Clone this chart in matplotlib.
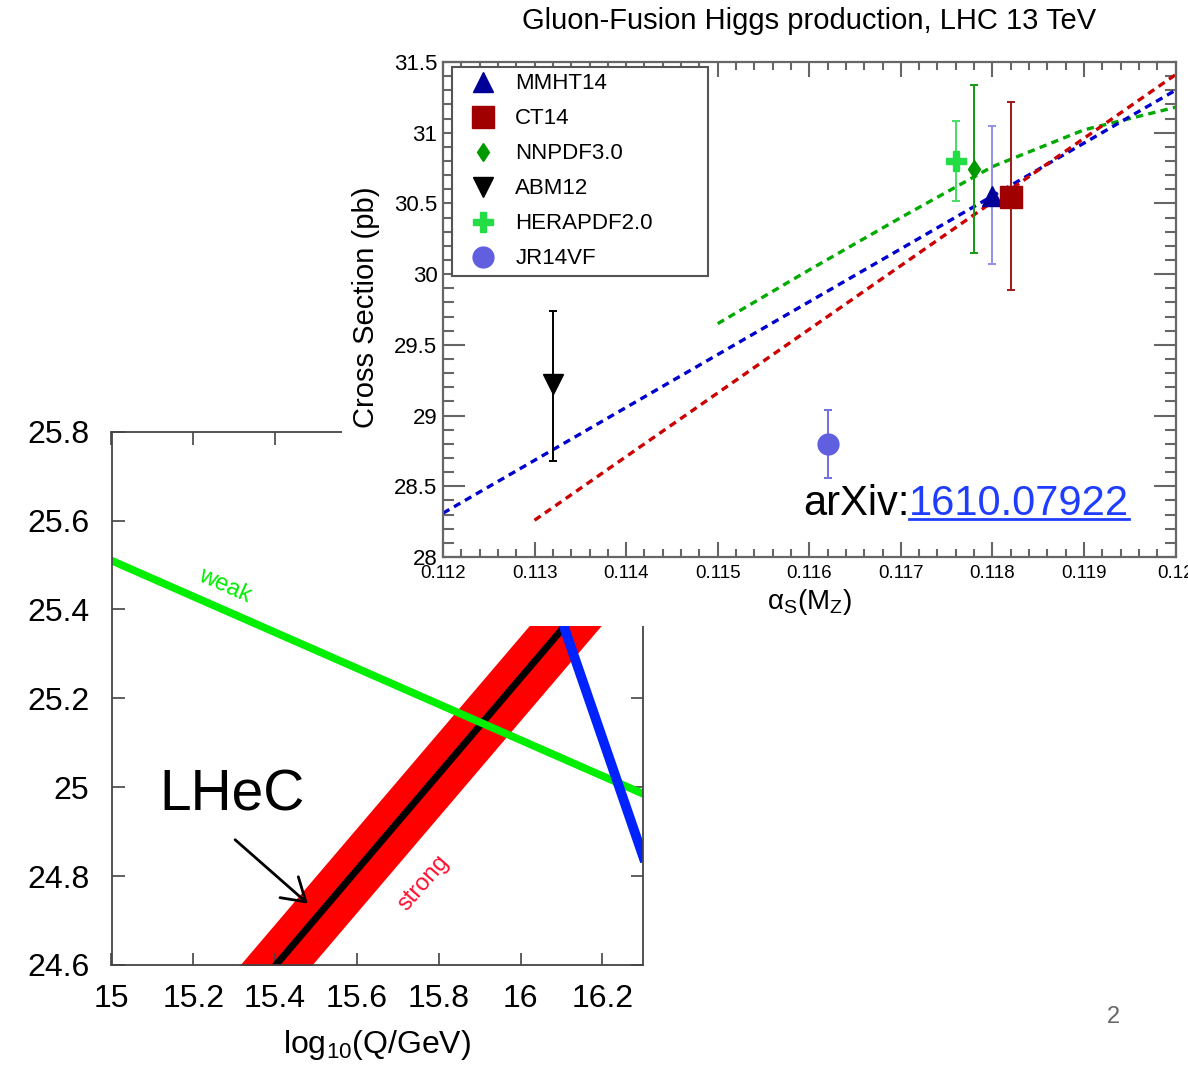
import matplotlib.pyplot as plt
from matplotlib.lines import Line2D
from matplotlib.patches import Rectangle
from matplotlib.ticker import FixedLocator, MultipleLocator

plt.rcParams['font.family'] = ['Liberation Sans', 'DejaVu Sans']
plt.rcParams['mathtext.fontset'] = 'custom'
plt.rcParams['mathtext.rm'] = 'Liberation Sans'
plt.rcParams['mathtext.it'] = 'Liberation Sans:italic'

# ---- top right panel: ggH cross section vs alpha_s(MZ)
pdf_names = ['MMHT14', 'CT14', 'NNPDF3.0', 'ABM12', 'HERAPDF2.0', 'JR14VF']
pdf_alphas = [0.1180, 0.1182, 0.1178, 0.1132, 0.1176, 0.1162]
pdf_xsec = [30.55, 30.545, 30.74, 29.22, 30.80, 28.80]
pdf_err_lo = [0.48, 0.66, 0.59, 0.54, 0.28, 0.24]
pdf_err_hi = [0.50, 0.67, 0.60, 0.52, 0.28, 0.24]
pdf_markers = ['^', 's', 'd', 'v', 'P', 'o']
pdf_msize = [14, 15.5, 9.5, 15, 14, 15]
pdf_colors = ['#000099', '#a00000', '#009a00', '#000000', '#22dd44', '#5f5fe0']
pdf_ecolors = ['#8f8fe6', '#a01818', '#129a12', '#000000', '#44dd66', '#7070e0']

# alpha_s scan lines
mmht_scan_a = [0.112, 0.120]
mmht_scan_x = [28.31, 31.30]
ct14_scan_a = [0.113, 0.120]
ct14_scan_x = [28.26, 31.41]
nnpdf_scan_a = [0.115, 0.116, 0.117, 0.118, 0.119, 0.120]
nnpdf_scan_x = [29.65, 30.03, 30.40, 30.76, 31.02, 31.18]

xticks_top = [0.112, 0.113, 0.114, 0.115, 0.116, 0.117, 0.118, 0.119, 0.120]
xtick_labels_top = ['0.112', '0.113', '0.114', '0.115', '0.116', '0.117', '0.118', '0.119', '0.12']
yticks_top = [28, 28.5, 29, 29.5, 30, 30.5, 31, 31.5]
ytick_labels_top = ['28', '28.5', '29', '29.5', '30', '30.5', '31', '31.5']

# ---- bottom left panel: running couplings (1/alpha) vs log10(Q/GeV)
weak_q = [15.0, 16.3]
weak_inv = [25.51, 24.985]
strong_q = [15.3, 16.3]
strong_inv = [24.49, 25.57]
strong_band = 0.095
em_q = [15.95, 16.3]
em_inv = [25.778, 24.843]

xticks_low = [15, 15.2, 15.4, 15.6, 15.8, 16, 16.2]
xtick_labels_low = ['15', '15.2', '15.4', '15.6', '15.8', '16', '16.2']
yticks_low = [24.6, 24.8, 25, 25.2, 25.4, 25.6, 25.8]
ytick_labels_low = ['24.6', '24.8', '25', '25.2', '25.4', '25.6', '25.8']

W, H = 1188, 1065
fig = plt.figure(figsize=(W / 100, H / 100), dpi=100)

# lower left plot (partly hidden under the upper one)
ax2 = fig.add_axes([111.5 / W, 1 - 965 / H, 531.8 / W, 533.3 / H])
ax2.set_zorder(0)
ax2.fill_between(strong_q, [v - strong_band for v in strong_inv],
                 [v + strong_band for v in strong_inv], color='#ff0000', lw=0)
ax2.plot(strong_q, strong_inv, color='black', lw=5)
ax2.plot(weak_q, weak_inv, color='#00ee00', lw=5.5)
ax2.plot(em_q, em_inv, color='#0022ff', lw=7)
ax2.set_xlim(15, 16.3)
ax2.set_ylim(24.6, 25.8)
ax2.xaxis.set_major_locator(FixedLocator(xticks_low))
ax2.set_xticklabels(xtick_labels_low)
ax2.yaxis.set_major_locator(FixedLocator(yticks_low))
ax2.set_yticklabels(ytick_labels_low)
ax2.tick_params(direction='in', top=True, right=True, length=9, width=1.2,
                color='#444444', labelsize=23)
ax2.tick_params(axis='y', pad=16)
ax2.tick_params(axis='x', pad=14)
for s in ax2.spines.values():
    s.set_color('#444444')
    s.set_linewidth(1.3)
ax2.set_xlabel('log$_{10}$(Q/GeV)', fontsize=23, va='top')
ax2.xaxis.set_label_coords(0.5, -0.118)

ax2.text(15.265, 25.43, 'weak', color='#00ee00', fontsize=17, rotation=-24,
         ha='center', va='bottom', rotation_mode='anchor')
ax2.text(15.762, 24.785, 'strong', color='#ff1030', fontsize=17, rotation=49,
         ha='center', va='center', rotation_mode='anchor')
ax2.text(15.116, 24.948, 'LHeC', fontsize=41, ha='left', va='baseline')
ax2.annotate('', xy=(15.485, 24.734), xytext=(15.297, 24.886),
             arrowprops=dict(arrowstyle='->, head_length=0.4, head_width=0.25',
                             mutation_scale=40, lw=2, color='black'))

# white sheet of the upper plot
fig.add_artist(Rectangle((342 / W, 1 - 626 / H), 1, 1, transform=fig.transFigure,
                         facecolor='white', edgecolor='none', zorder=1))

# upper right plot
ax1 = fig.add_axes([443 / W, 1 - 557 / H, 732.5 / W, 495 / H])
ax1.set_zorder(2)
ax1.plot(nnpdf_scan_a, nnpdf_scan_x, color='#00aa00', lw=2.4, ls=(0, (2.2, 1.6)))
ax1.plot(mmht_scan_a, mmht_scan_x, color='#0000cc', lw=2.4, ls=(0, (2.2, 1.6)))
ax1.plot(ct14_scan_a, ct14_scan_x, color='#cc0000', lw=2.4, ls=(0, (2.2, 1.6)))

for i in range(len(pdf_names)):
    ax1.errorbar(pdf_alphas[i], pdf_xsec[i], yerr=[[pdf_err_lo[i]], [pdf_err_hi[i]]],
                 fmt='none', ecolor=pdf_ecolors[i], elinewidth=1.4, capsize=3,
                 capthick=1.4)
    ax1.plot(pdf_alphas[i], pdf_xsec[i], ls='none', marker=pdf_markers[i],
             ms=pdf_msize[i], color=pdf_colors[i], mec=pdf_colors[i],
             label=pdf_names[i])

ax1.set_xlim(0.112, 0.120)
ax1.set_ylim(28, 31.5)
ax1.xaxis.set_major_locator(FixedLocator(xticks_top))
ax1.set_xticklabels(xtick_labels_top)
ax1.xaxis.set_minor_locator(MultipleLocator(0.0002))
ax1.yaxis.set_major_locator(FixedLocator(yticks_top))
ax1.set_yticklabels(ytick_labels_top)
ax1.yaxis.set_minor_locator(MultipleLocator(0.1))
ax1.tick_params(which='both', direction='in', top=True, right=True,
                color='#666666', width=1.5)
ax1.tick_params(axis='y', which='major', length=16, labelsize=16, pad=4)
ax1.tick_params(axis='y', which='minor', length=8)
ax1.tick_params(axis='x', which='major', length=11, labelsize=13.5, pad=5.5)
ax1.tick_params(axis='x', which='minor', length=5.5)
for s in ax1.spines.values():
    s.set_color('#666666')
    s.set_linewidth(1.6)

ax1.set_title('Gluon-Fusion Higgs production, LHC 13 TeV', fontsize=21, pad=24)
ax1.set_ylabel('Cross Section (pb)', fontsize=21)
ax1.yaxis.set_label_coords(-0.086, 0.505)
ax1.set_xlabel('α$_\\mathrm{S}$(M$_\\mathrm{Z}$)', fontsize=20, va='top')
ax1.xaxis.set_label_coords(0.5, -0.06)

leg = ax1.legend(loc='upper left', bbox_to_anchor=(0.0123, 0.5, 0.35, 0.4905),
                 mode='expand', borderaxespad=0, fontsize=16, fancybox=False,
                 framealpha=1, edgecolor='#555555', borderpad=0.3,
                 labelspacing=0.63, handlelength=2.2, handletextpad=0.35,
                 numpoints=1)
leg.get_frame().set_linewidth(1.5)

arx_a, arx_x = 0.11593, 28.297
arx = ax1.text(arx_a, arx_x, 'arXiv:', fontsize=30, ha='left', va='baseline')
fig.canvas.draw()
bb = arx.get_window_extent()
next_a = ax1.transData.inverted().transform((bb.x1, bb.y0))[0]
num = ax1.text(next_a, arx_x, '1610.07922', fontsize=30, color='#1f3dff',
               ha='left', va='baseline')
fig.canvas.draw()
nb = num.get_window_extent()
base_y = ax1.transData.transform((next_a, arx_x))[1] - 4
ax1.add_line(Line2D([nb.x0, nb.x1], [base_y, base_y], transform=None,
                    color='#1f3dff', lw=2))

fig.text(1113 / W, 1 - 1017 / H, '2', fontsize=17, color='#666666',
         ha='center', va='center')

fig.savefig('out.png', dpi=100)
